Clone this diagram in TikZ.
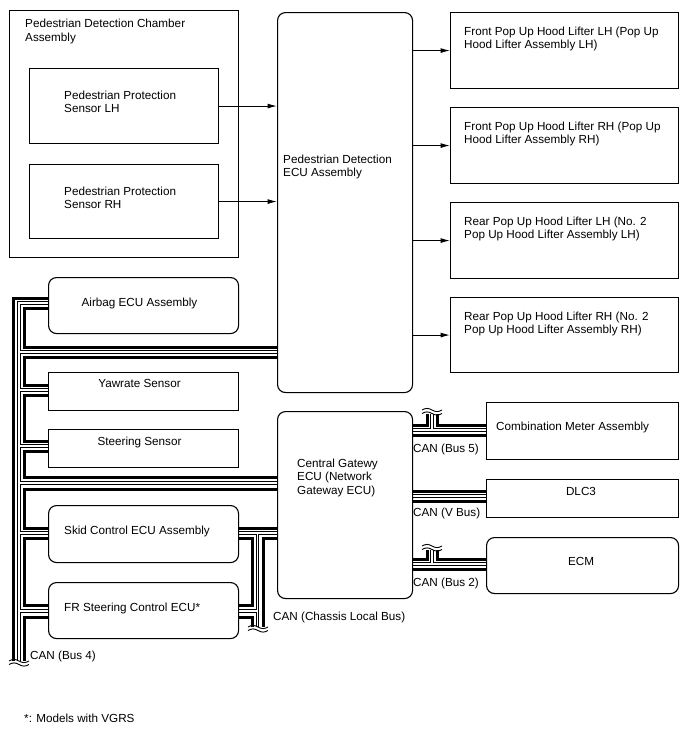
\documentclass[tikz,border=0pt]{standalone}
\usepackage{fontspec}
\setmainfont{Liberation Sans}
\usetikzlibrary{arrows.meta,backgrounds}
\newcommand\mybreak[2]{\draw[brkln] (#1,#2) sin ++(5,-1.6) cos ++(5,1.6) sin ++(5,1.6) cos ++(5,-1.6);}
\begin{document}
\begin{tikzpicture}[x=1pt,y=-1pt,
  box/.style={draw, line width=1.1pt, inner sep=0pt, anchor=north west},
  rbox/.style={box, rounded corners=8pt},
  txt/.style={inner sep=0pt, font=\fontsize{11.7}{13.5}\selectfont, align=left},
  arr/.style={line width=1pt, -{Latex[length=9.5pt,width=5pt]}},
  canh/.style={line width=3pt, line cap=butt, line join=miter},
  canlo/.style={line width=3.4pt, line cap=butt, line join=miter},
  canli/.style={line width=1.6pt, white, line cap=butt, line join=miter},
  brkln/.style={line width=0.9pt}]
\useasboundingbox (0,0) rectangle (688,755);

% ---------- boxes ----------
\node[box, minimum width=229pt, minimum height=247pt] (chamber) at (9,10) {};
\node[box, minimum width=189pt, minimum height=75pt] (sensLH) at (29,68) {};
\node[box, minimum width=189pt, minimum height=74pt] (sensRH) at (29,164) {};
\node[rbox, minimum width=135pt, minimum height=380pt] (pedecu) at (277,12) {};
\node[box, minimum width=228pt, minimum height=76pt] (fLH) at (450,12) {};
\node[box, minimum width=228pt, minimum height=76pt] (fRH) at (450,107) {};
\node[box, minimum width=228pt, minimum height=76pt] (rLH) at (450,202) {};
\node[box, minimum width=228pt, minimum height=75pt] (rRH) at (450,297) {};
\node[rbox, minimum width=190pt, minimum height=56pt] (airbag) at (48,277) {};
\node[box, minimum width=190pt, minimum height=38pt] (yaw) at (48,372) {};
\node[box, minimum width=190pt, minimum height=38pt] (steer) at (48,429) {};
\node[rbox, minimum width=190pt, minimum height=57pt] (skid) at (48,505) {};
\node[rbox, minimum width=190pt, minimum height=56pt] (fr) at (48,582) {};
\node[rbox, minimum width=135pt, minimum height=187pt] (cgw) at (277,411) {};
\node[box, minimum width=192pt, minimum height=57pt] (meter) at (486,402) {};
\node[box, minimum width=192pt, minimum height=38pt] (dlc) at (486,479) {};
\node[rbox, minimum width=192pt, minimum height=56pt] (ecm) at (486,537) {};

% ---------- texts ----------
\node[txt, anchor=north west] (tchamber) at (25,19) {Pedestrian Detection Chamber\\Assembly};
\node[txt, anchor=north west] (tsensLH) at (64,90.7) {Pedestrian Protection\\Sensor LH};
\node[txt, anchor=north west] (tsensRH) at (64,186.7) {Pedestrian Protection\\Sensor RH};
\node[txt, anchor=north west] (tpedecu) at (283,154.7) {Pedestrian Detection\\ECU Assembly};
\node[txt, anchor=north west] (tfLH) at (464,26.7) {Front Pop Up Hood Lifter LH (Pop Up\\Hood Lifter Assembly LH)};
\node[txt, anchor=north west] (tfRH) at (464,121.7) {Front Pop Up Hood Lifter RH (Pop Up\\Hood Lifter Assembly RH)};
\node[txt, anchor=north west] (trLH) at (464,216.7) {Rear Pop Up Hood Lifter LH (No. 2\\Pop Up Hood Lifter Assembly LH)};
\node[txt, anchor=north west] (trRH) at (464,311.7) {Rear Pop Up Hood Lifter RH (No. 2\\Pop Up Hood Lifter Assembly RH)};
\node[txt, anchor=north west] (tcgw) at (297,458.7) {Central Gatewy\\ECU (Network\\Gateway ECU)};
\node[txt, anchor=base] (tairbag) at (139.5,306) {Airbag ECU Assembly};
\node[txt, anchor=base] (tyaw) at (139.5,387) {Yawrate Sensor};
\node[txt, anchor=base] (tsteer) at (139.5,445) {Steering Sensor};
\node[txt, anchor=base west] (tskid) at (64,534) {Skid Control ECU Assembly};
\node[txt, anchor=base west] (tfr) at (64,611) {FR Steering Control ECU*};
\node[txt, anchor=base west] (tmeter) at (496,430) {Combination Meter Assembly};
\node[txt, anchor=base] (tdlc) at (581,495) {DLC3};
\node[txt, anchor=base] (tecm) at (581,565) {ECM};
\node[txt, anchor=base west] (lbus5) at (413,452) {CAN (Bus 5)};
\node[txt, anchor=base west] (lvbus) at (413,516) {CAN (V Bus)};
\node[txt, anchor=base west] (lbus2) at (413,586) {CAN (Bus 2)};
\node[txt, anchor=base west] (lchassis) at (273,620) {CAN (Chassis Local Bus)};
\node[txt, anchor=base west] (lbus4) at (30,659) {CAN (Bus 4)};
\node[txt, anchor=base west] (tnote) at (24,722) {*: Models with VGRS};

% ---------- arrows ----------
\draw[arr] (sensLH.east) -- (sensLH.east -| pedecu.west);
\draw[arr] (sensRH.east) -- (sensRH.east -| pedecu.west);
\draw[arr] (fLH.west -| pedecu.east) -- (fLH.west);
\draw[arr] (fRH.west -| pedecu.east) -- (fRH.west);
\draw[arr] (rLH.west -| pedecu.east) -- (rLH.west);
\draw[arr] (rRH.west -| pedecu.east) -- (rRH.west);

% ---------- break coordinates ----------
\coordinate (b4l) at (13,661);  \coordinate (b4m) at (19,661);  \coordinate (b4r) at (24,661);
\coordinate (bcl) at (252,627); \coordinate (bcm) at (257.5,627); \coordinate (bcr) at (263,627);
\coordinate (b5l) at (427,413.5); \coordinate (b5m) at (432,413.5); \coordinate (b5r) at (437,413.5);
\coordinate (b2l) at (427,549.5); \coordinate (b2m) at (432,549.5); \coordinate (b2r) at (437,549.5);

\newcommand\myHollow[1]{%
  % Bus 4
  \draw[#1] (airbag.west |- 0,303) -| (b4m);
  \draw[#1] (19,352) -- (pedecu.west |- 0,352);
  \draw[#1] (19,390) -- (yaw.west |- 0,390);
  \draw[#1] (19,446) -- (steer.west |- 0,446);
  \draw[#1] (19,483) -- (cgw.west |- 0,483);
  \draw[#1] (19,533) -- (skid.west |- 0,533);
  \draw[#1] (19,611) -- (fr.west |- 0,611);
  % chassis local bus
  \draw[#1] (skid.east |- 0,533) -- (cgw.west |- 0,533);
  \draw[#1] (257.5,533) -- (bcm);
  \draw[#1] (fr.east |- 0,611) -- (257.5,611);
  % bus 5
  \draw[#1] (cgw.east |- 0,430) -- (meter.west |- 0,430);
  \draw[#1] (432,430) -- (b5m);
  % V bus
  \draw[#1] (cgw.east |- 0,496) -- (dlc.west |- 0,496);
  % bus 2
  \draw[#1] (cgw.east |- 0,564) -- (ecm.west |- 0,564);
  \draw[#1] (432,564) -- (b2m);
}

\begin{scope}[on background layer]
  % thick lines, Bus 4
  \draw[canh] (airbag.west |- 0,298) -| (b4l);
  \draw[canh] (airbag.west |- 0,308) -| (24,347) -- (pedecu.west |- 0,347);
  \draw[canh] (pedecu.west |- 0,357) -| (24,385) -- (yaw.west |- 0,385);
  \draw[canh] (yaw.west |- 0,395) -| (24,441) -- (steer.west |- 0,441);
  \draw[canh] (steer.west |- 0,451) -| (24,477) -- (cgw.west |- 0,477);
  \draw[canh] (cgw.west |- 0,489) -| (24,528) -- (skid.west |- 0,528);
  \draw[canh] (skid.west |- 0,538) -| (24,605) -- (fr.west |- 0,605);
  \draw[canh] (fr.west |- 0,617) -| (b4r);
  % chassis local bus
  \draw[canh] (skid.east |- 0,528) -- (cgw.west |- 0,528);
  \draw[canh] (skid.east |- 0,538) -| (252,605) -- (fr.east |- 0,605);
  \draw[canh] (cgw.west |- 0,538) -| (bcr);
  \draw[canh] (fr.east |- 0,617) -| (bcl);
  % bus 5
  \draw[canh] (cgw.east |- 0,425) -| (b5l);
  \draw[canh] (meter.west |- 0,425) -| (b5r);
  \draw[canh] (cgw.east |- 0,435) -- (meter.west |- 0,435);
  % V bus
  \draw[canh] (cgw.east |- 0,491) -- (dlc.west |- 0,491);
  \draw[canh] (cgw.east |- 0,501) -- (dlc.west |- 0,501);
  % bus 2
  \draw[canh] (cgw.east |- 0,559) -| (b2l);
  \draw[canh] (ecm.west |- 0,559) -| (b2r);
  \draw[canh] (cgw.east |- 0,569) -- (ecm.west |- 0,569);
  % hollow lines
  \myHollow{canlo}
  \myHollow{canli}
\end{scope}

% ---------- break marks ----------
\mybreak{9}{661}\mybreak{9}{664.5}
\mybreak{248}{627}\mybreak{248}{630.5}
\mybreak{422}{410}\mybreak{422}{413.5}
\mybreak{422}{546}\mybreak{422}{549.5}
\end{tikzpicture}
\end{document}
